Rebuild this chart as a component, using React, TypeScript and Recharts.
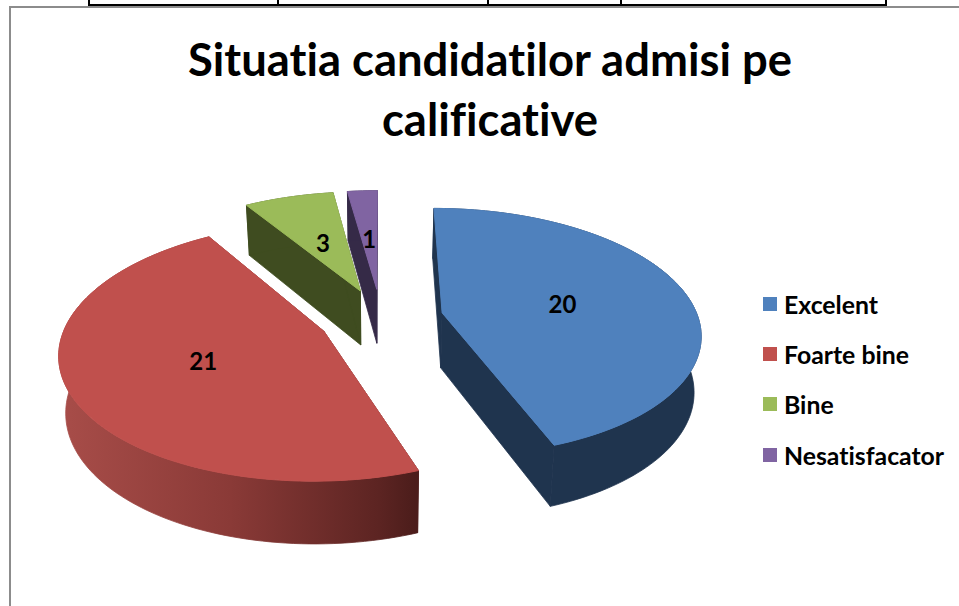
import React from "react";
import { PieChart, Pie, Legend } from "recharts";

const names = ["Excelent", "Foarte bine", "Bine", "Nesatisfacator"];
const counts = [20, 21, 3, 1];
const topColors = ["#4f81bd", "#c0504d", "#9bbb59", "#8064a2"];
const wallColors = ["#1f344e", "url(#redWall)", "#3f4c20", "#352a47"];
const tableRuleX = [88, 277, 487, 620, 885];
const titleLines = ["Situatia candidatilor admisi pe", "calificative"];

const data = names.map((name, i) => ({ name, value: counts[i], fill: topColors[i] }));

// 3-D look of the pie: a tilted, perspective plane with exploded slices
const TILT = 0.477;
const PERSPECTIVE = 0.155;
const EXPLODE = 0.244;
const RAD = Math.PI / 180;

type Pt = [number, number];

function project(cx: number, cy: number, r: number, midDeg: number, deg: number, f: number): Pt {
  const X = EXPLODE * Math.cos(midDeg * RAD) + f * Math.cos(deg * RAD);
  const Z = EXPLODE * Math.sin(midDeg * RAD) + f * Math.sin(deg * RAD);
  const s = 1 / (1 + PERSPECTIVE * Z);
  return [cx + X * r * s, cy - Z * r * TILT * s];
}

function lower(p: Pt): Pt {
  return [378 + (p[0] - 378) * 0.978, p[1] + 50 + (p[1] - 204) * 0.046];
}

const toPath = (pts: Pt[]) =>
  "M" + pts.map((p) => p[0].toFixed(2) + "," + p[1].toFixed(2)).join("L") + "Z";

function Slice3D(props: any) {
  const { cx, cy, outerRadius, startAngle, endAngle, fill } = props;
  const name = props.payload?.name ?? props.name;
  const idx = names.indexOf(name);
  const mid = (startAngle + endAngle) / 2;
  const n = Math.max(4, Math.ceil(Math.abs(endAngle - startAngle) / 1.5));
  const arc: Pt[] = [];
  for (let i = 0; i <= n; i++) {
    const a = startAngle + ((endAngle - startAngle) * i) / n;
    arc.push(project(cx, cy, outerRadius, mid, a, 1));
  }
  const apex = project(cx, cy, outerRadius, mid, mid, 0);
  const wall = wallColors[idx];
  const first = arc[0];
  const last = arc[arc.length - 1];
  const wallStyle = { fill: wall, stroke: wall, strokeWidth: 0.8 };
  return (
    <g>
      <defs>
        <linearGradient id="redWall" gradientUnits="userSpaceOnUse" x1={60} y1={0} x2={415} y2={0}>
          <stop offset="0" stopColor="#a84d49" />
          <stop offset="0.48" stopColor="#8a3a37" />
          <stop offset="0.9" stopColor="#5c2422" />
          <stop offset="1" stopColor="#4c1d1b" />
        </linearGradient>
      </defs>
      <path d={toPath([apex, first, lower(first), lower(apex)])} {...wallStyle} />
      <path d={toPath([apex, last, lower(last), lower(apex)])} {...wallStyle} />
      <path d={toPath([...arc, ...arc.slice().reverse().map(lower)])} {...wallStyle} />
      <path d={toPath([apex, ...arc])} fill={fill} stroke={fill} strokeWidth={1} strokeLinejoin="round" />
    </g>
  );
}

function sliceLabel(props: any) {
  const { cx, cy, outerRadius, midAngle, value } = props;
  const p = project(cx, cy, outerRadius, midAngle, midAngle, 0.49);
  return (
    <text
      x={p[0]}
      y={p[1] + 1}
      textAnchor="middle"
      dominantBaseline="central"
      fontFamily="Lato, sans-serif"
      fontWeight={700}
      fontSize={24}
      fill="#000"
    >
      {value}
    </text>
  );
}

function LegendBox(props: any) {
  const items = props.payload || [];
  return (
    <div style={{ position: "relative", width: 190, height: 200 }}>
      {items.map((it: any, i: number) => (
        <div key={it.value} style={{ position: "absolute", left: 0, top: i * 50.2, height: 24, width: 190 }}>
          <span
            style={{ position: "absolute", left: 0, top: 4, width: 14, height: 14, background: it.color }}
          />
          <span
            style={{
              position: "absolute",
              left: 21,
              top: 0,
              lineHeight: "24px",
              whiteSpace: "nowrap",
              fontFamily: "Lato, sans-serif",
              fontVariantLigatures: "none",
              fontWeight: 700,
              fontSize: 24.8,
              color: "#000",
            }}
          >
            {it.value}
          </span>
        </div>
      ))}
    </div>
  );
}

export default function App() {
  return (
    <div style={{ position: "absolute", left: 0, top: 0, width: 959, height: 606, overflow: "hidden", background: "#fff" }}>
      <div style={{ position: "absolute", left: 88, top: 4, width: 799, height: 2, background: "#000" }} />
      {tableRuleX.map((x) => (
        <div key={x} style={{ position: "absolute", left: x, top: 0, width: 2, height: 5, background: "#000" }} />
      ))}
      <div style={{ position: "absolute", left: 9, top: 6, width: 950, height: 2, background: "#8c8c8c" }} />
      <div style={{ position: "absolute", left: 9, top: 6, width: 2, height: 600, background: "#8c8c8c" }} />
      {titleLines.map((t, i) => (
        <div
          key={t}
          style={{
            position: "absolute",
            left: 90,
            width: 800,
            top: 32 + i * 60,
            height: 54,
            lineHeight: "54px",
            textAlign: "center",
            fontFamily: "Lato, sans-serif",
            fontVariantLigatures: "none",
            fontWeight: 700,
            fontSize: 45.4,
            color: "#000",
          }}
        >
          {t}
        </div>
      ))}
      <div style={{ position: "absolute", left: 0, top: 0 }}>
        <PieChart width={959} height={606} margin={{ top: 0, right: 0, bottom: 0, left: 0 }} accessibilityLayer={false}>
          <Pie
            data={data}
            dataKey="value"
            nameKey="name"
            cx={381}
            cy={318}
            innerRadius={0}
            outerRadius={256}
            startAngle={90}
            endAngle={-270}
            stroke="none"
            isAnimationActive={false}
            shape={Slice3D}
            label={sliceLabel}
            labelLine={false}
            rootTabIndex={-1}
          />
          <Legend
            layout="vertical"
            content={LegendBox}
            itemSorter={null}
            wrapperStyle={{ position: "absolute", left: 763, top: 293, width: 190, bottom: "auto", right: "auto" }}
          />
        </PieChart>
      </div>
    </div>
  );
}
